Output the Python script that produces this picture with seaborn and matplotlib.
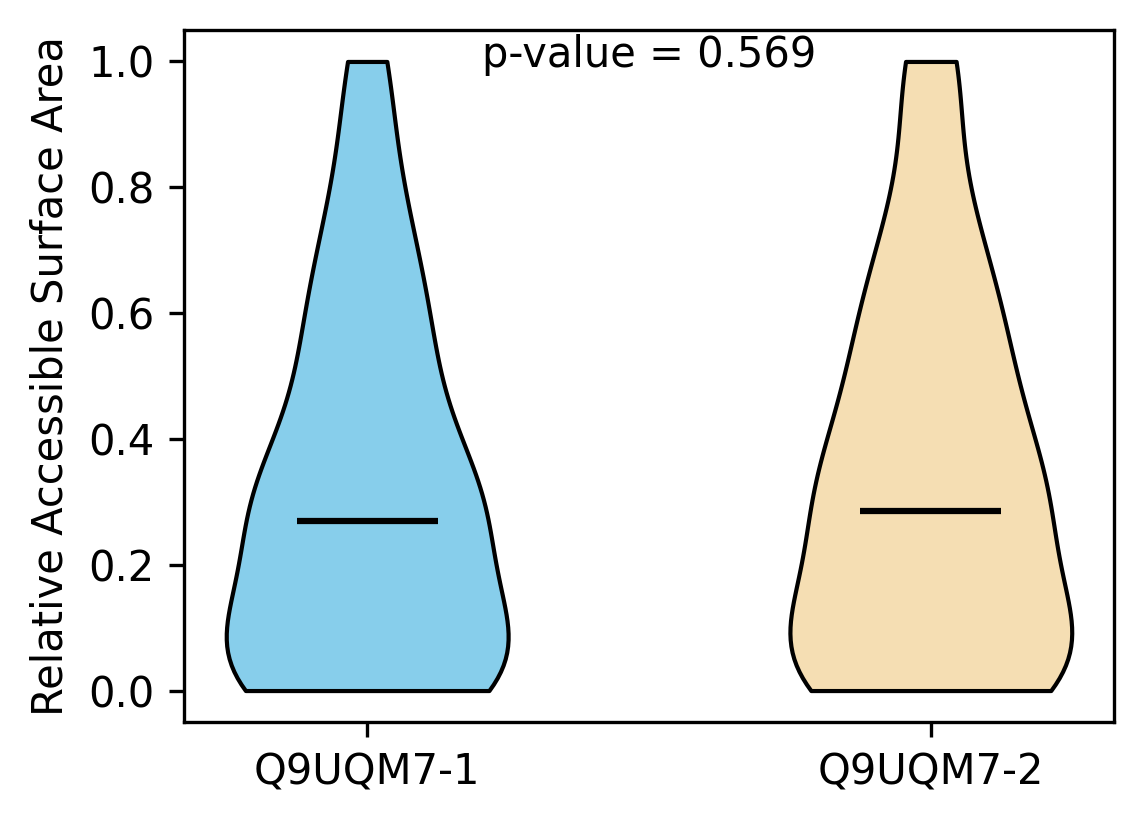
import numpy as np
import pandas as pd
import matplotlib
matplotlib.use("Agg")
import matplotlib.pyplot as plt
import seaborn as sns

categories = ["Q9UQM7-1", "Q9UQM7-2"]
colors = ["#87CEEB", "#F5DEB3"]
p_value_text = "p-value = 0.569"

rsa_iso1 = [
    0.0, 0.0, 0.0, 0.0, 0.0, 0.0, 0.0, 0.0, 0.0, 0.0, 0.0, 0.0,
    0.01, 0.01, 0.02, 0.02, 0.02, 0.03, 0.03, 0.03, 0.04, 0.04, 0.05, 0.05,
    0.06, 0.06, 0.07, 0.07, 0.08, 0.08, 0.09, 0.09, 0.10,
    0.11, 0.12, 0.13, 0.14, 0.15,
    0.16, 0.18, 0.20,
    0.21, 0.22, 0.23, 0.24, 0.24, 0.25, 0.26, 0.26, 0.27,
    0.27, 0.28, 0.28, 0.29, 0.29, 0.30, 0.30,
    0.31, 0.31, 0.32, 0.32, 0.33, 0.33, 0.34, 0.34, 0.35,
    0.39, 0.40,
    0.41, 0.42, 0.45,
    0.46, 0.47, 0.48, 0.49, 0.50,
    0.51, 0.54, 0.55,
    0.56, 0.58, 0.60,
    0.61, 0.62, 0.63, 0.65,
    0.66, 0.68, 0.70,
    0.72, 0.75,
    0.78, 0.79,
    0.82, 0.83,
    0.90,
    0.96, 0.98,
    1.0, 1.0,
]

rsa_iso2 = [
    0.0, 0.0, 0.0, 0.0, 0.0, 0.0, 0.0, 0.0, 0.0, 0.0, 0.0,
    0.01, 0.01, 0.02, 0.02, 0.03, 0.03, 0.04, 0.04, 0.04, 0.05, 0.05,
    0.06, 0.06, 0.07, 0.07, 0.08, 0.08, 0.09, 0.09, 0.10,
    0.11, 0.12, 0.13, 0.13, 0.14, 0.15,
    0.19, 0.20,
    0.21, 0.22, 0.23, 0.24, 0.24, 0.25, 0.25, 0.26, 0.27, 0.27, 0.28,
    0.29, 0.29, 0.30,
    0.31, 0.32, 0.32, 0.33, 0.33, 0.34, 0.35,
    0.36, 0.36, 0.37, 0.39, 0.40,
    0.41, 0.42, 0.44, 0.45,
    0.46, 0.47, 0.49, 0.50,
    0.51, 0.52, 0.53, 0.55,
    0.56, 0.57, 0.58, 0.60,
    0.61, 0.62, 0.63, 0.65,
    0.66, 0.68,
    0.71, 0.73, 0.75,
    0.76, 0.78, 0.80,
    0.87,
    0.94, 0.97, 0.99,
    1.0, 1.0, 1.0,
]

df = pd.DataFrame({
    "isoform": [categories[0]] * len(rsa_iso1) + [categories[1]] * len(rsa_iso2),
    "rsa": rsa_iso1 + rsa_iso2,
})

sns.set_style("ticks")
plt.rcParams["font.family"] = ["DejaVu Sans"]
plt.rcParams["font.size"] = 10
plt.rcParams["text.color"] = "black"
plt.rcParams["axes.labelcolor"] = "black"
plt.rcParams["xtick.color"] = "black"
plt.rcParams["ytick.color"] = "black"

fig = plt.figure(figsize=(1144 / 300, 824 / 300), dpi=300)
ax = fig.add_axes([184 / 1144, 1 - 722 / 824, (1114 - 184) / 1144, (722 - 30) / 824])

sns.violinplot(
    data=df, x="isoform", y="rsa", hue="isoform", order=categories,
    palette=dict(zip(categories, colors)), cut=0, inner=None,
    density_norm="width", width=0.5, linewidth=1.0, linecolor="black",
    saturation=1, legend=False, ax=ax,
)
for coll in ax.collections:
    coll.set_edgecolor("black")
    coll.set_alpha(1)

for i, vals in enumerate([rsa_iso1, rsa_iso2]):
    med = np.median(vals)
    ax.hlines(med, i - 0.125, i + 0.125, colors="black", linewidth=1.5)

ax.set_xlim(-0.325, 1.325)
ax.set_ylim(-0.05, 1.05)
ax.set_yticks([0.0, 0.2, 0.4, 0.6, 0.8, 1.0])
ax.set_xlabel("")
ax.set_ylabel("Relative Accessible Surface Area")
for s in ax.spines.values():
    s.set_visible(True)
    s.set_linewidth(0.8)
    s.set_color("black")
ax.tick_params(colors="black", labelcolor="black", length=3.5, width=0.8)
ax.text(0.5, 0.964, p_value_text, transform=ax.transAxes, ha="center", va="center",
        color="black")

fig.savefig("out.png", dpi=300)
